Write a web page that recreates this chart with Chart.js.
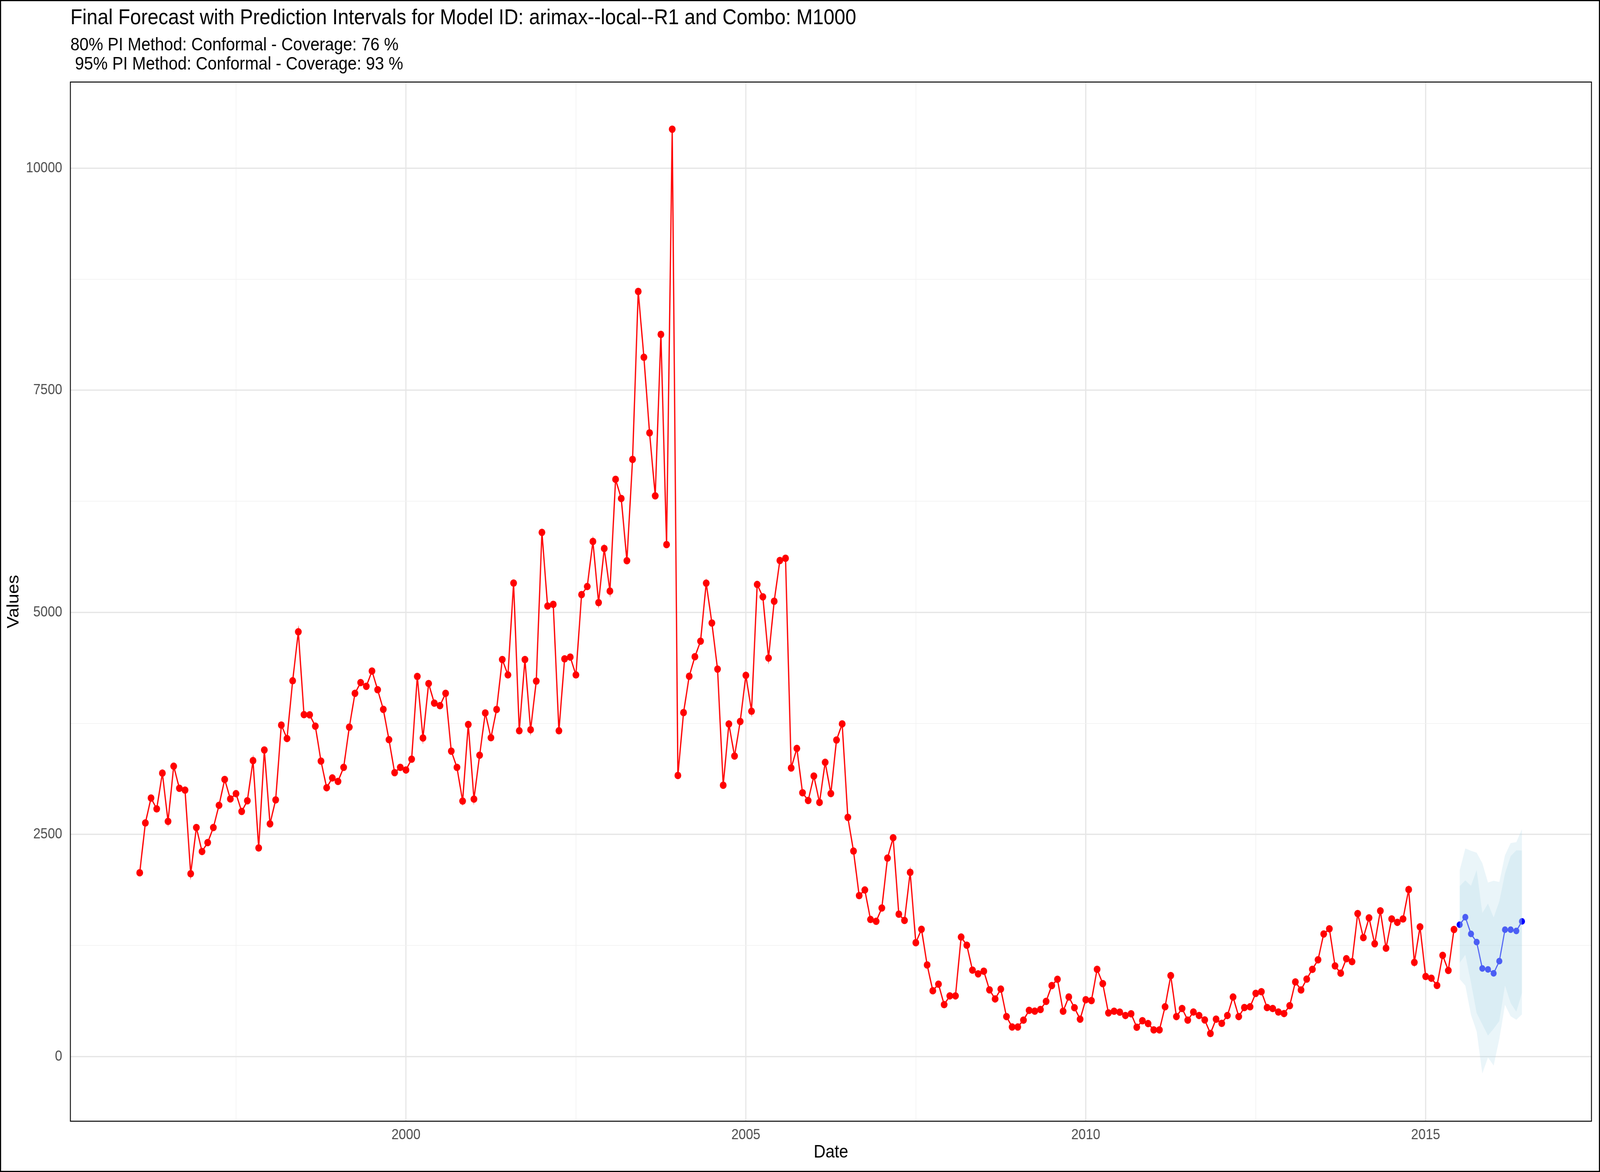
<!DOCTYPE html>
<html>
<head>
<meta charset="utf-8">
<script src="https://cdn.jsdelivr.net/npm/chart.js@4.4.1/dist/chart.umd.min.js"></script>
<style>
  html, body { margin: 0; padding: 0; background: #ffffff; overflow: hidden; width: 100vw; height: 100vh; }
  canvas { display: block; }
</style>
</head>
<body>
<canvas id="c" width="4500" height="3000" style="width:100vw;height:100vh;display:block;"></canvas>
<script>
// ---------------- text ----------------
const titleText = "Final Forecast with Prediction Intervals for Model ID: arimax--local--R1 and Combo: M1000";
const subtitleLines = [
  "80% PI Method: Conformal - Coverage: 76 %",
  " 95% PI Method: Conformal - Coverage: 93 %"
];
const xAxisTitle = "Date";
const yAxisTitle = "Values";

// ---------------- categories (monthly dates) ----------------
const historyStart = [1996, 2];   // Feb 1996
const forecastStart = [2015, 7];  // Jul 2015

// ---------------- series values ----------------
const historyValues = [
  2069, 2630, 2910, 2788, 3190, 2647, 3268, 3020, 2999, 2058,
  2578, 2308, 2409, 2578, 2828, 3119, 2900, 2959, 2759, 2879,
  3331, 2348, 3451, 2620, 2889, 3731, 3580, 4230, 4781, 3849,
  3847, 3719, 3326, 3026, 3136, 3097, 3255, 3708, 4089, 4210,
  4168, 4339, 4129, 3908, 3567, 3196, 3255, 3226, 3348, 4279,
  3586, 4199, 3979, 3950, 4089, 3438, 3255, 2876, 3738, 2898,
  3392, 3868, 3589, 3907, 4469, 4296, 5330, 3667, 4469, 3679,
  4226, 5900, 5071, 5090, 3667, 4477, 4497, 4296, 5200, 5291,
  5798, 5110, 5719, 5240, 6498, 6282, 5582, 6722, 8613, 7872,
  7021, 6312, 8129, 5763, 10439, 3164, 3872, 4281, 4501, 4676,
  5329, 4880, 4361, 3054, 3743, 3383, 3772, 4291, 3887, 5314,
  5175, 4486, 5125, 5584, 5609, 3249, 3468, 2969, 2882, 3157,
  2861, 3312, 2961, 3563, 3745, 2692, 2313, 1812, 1875, 1543,
  1522, 1672, 2234, 2463, 1603, 1532, 2073, 1282, 1432, 1031,
  741, 815, 585, 683, 683, 1345, 1253, 973, 931, 961,
  751, 649, 759, 450, 333, 333, 410, 520, 511, 530,
  621, 799, 870, 510, 671, 550, 421, 640, 630, 982,
  821, 491, 510, 500, 462, 481, 330, 403, 371, 300,
  300, 560, 911, 450, 541, 410, 501, 462, 412, 259,
  421, 374, 462, 670, 450, 552, 560, 711, 730, 552,
  541, 501, 484, 573, 840, 750, 872, 982, 1089, 1380,
  1438, 1020, 939, 1101, 1068, 1609, 1339, 1561, 1270, 1640,
  1220, 1549, 1511, 1549, 1880, 1060, 1460, 901, 882, 800,
  1139, 969, 1430
];
const forecastValues = [1484, 1569, 1381, 1288, 992, 981, 937, 1074, 1428, 1428, 1414, 1521];
const lower80 = [1054, 1145, 832, 489, 363, 236, 313, 400, 798, 602, 505, 717];
const upper80 = [1918, 1983, 1922, 2100, 1616, 1721, 1565, 1747, 2060, 2256, 2322, 2318];
const lower95 = [872, 798, 469, 283, -192, -10, -101, 198, 582, 454, 414, 475];
const upper95 = [2094, 2343, 2316, 2294, 2177, 1959, 1979, 1965, 2266, 2403, 2413, 2561];

// ---------------- tick labels ----------------
const xMajorTicks = [2000, 2005, 2010, 2015];
const xMinorTicks = [1997.5, 2002.5, 2007.5, 2012.5];
const yMajorTicks = [0, 2500, 5000, 7500, 10000];
const yMinorTicks = [1250, 3750, 6250, 8750];

// ---------------- build points ----------------
function monthPos(start, i) {
  const m = start[1] - 1 + i;
  return start[0] + Math.floor(m / 12) + (m % 12) / 12;
}
const toPts = (start, arr) => arr.map((v, i) => ({ x: monthPos(start, i), y: v }));

const FONT = "'Liberation Sans', Arial, Helvetica, sans-serif";
const BAND = 'rgba(173,216,230,0.25)';

const decorPlugin = {
  id: 'decor',
  afterDraw(chart) {
    const ctx = chart.ctx;
    const ca = chart.chartArea;
    ctx.save();
    ctx.strokeStyle = '#000000';
    ctx.lineWidth = 2.5;
    ctx.strokeRect(ca.left, ca.top, ca.right - ca.left, ca.bottom - ca.top);
    ctx.lineWidth = 3;
    ctx.strokeRect(1.5, 1.5, chart.width - 3, chart.height - 3);
    ctx.fillStyle = '#000000';
    ctx.textAlign = 'left';
    ctx.textBaseline = 'alphabetic';
    ctx.font = '55px ' + FONT;
    ctx.fillText(titleText, ca.left, 62);
    ctx.font = '46px ' + FONT;
    ctx.fillText(subtitleLines[0], ca.left, 129);
    ctx.fillText(subtitleLines[1], ca.left, 178);
    ctx.restore();
  }
};

const isMajorX = v => xMajorTicks.some(t => Math.abs(t - v) < 1e-6);
const isMajorY = v => yMajorTicks.some(t => Math.abs(t - v) < 1e-6);

new Chart(document.getElementById('c'), {
  type: 'line',
  data: {
    datasets: [
      { data: toPts(historyStart, historyValues), borderColor: '#FF0000', backgroundColor: '#FF0000',
        pointBackgroundColor: '#FF0000', pointBorderWidth: 0, pointRadius: 9.5, borderWidth: 3.5,
        tension: 0, fill: false, order: 10 },
      { data: toPts(forecastStart, forecastValues), borderColor: '#0000FF', backgroundColor: '#0000FF',
        pointBackgroundColor: '#0000FF', pointBorderWidth: 0, pointRadius: 8.5, borderWidth: 3,
        tension: 0, fill: false, order: 9 },
      { data: toPts(forecastStart, lower95), borderColor: 'rgba(0,0,0,0)', borderWidth: 0,
        pointRadius: 0, fill: false, order: 2 },
      { data: toPts(forecastStart, upper95), borderColor: 'rgba(0,0,0,0)', borderWidth: 0,
        pointRadius: 0, fill: '-1', backgroundColor: BAND, order: 1 },
      { data: toPts(forecastStart, lower80), borderColor: 'rgba(0,0,0,0)', borderWidth: 0,
        pointRadius: 0, fill: false, order: 2 },
      { data: toPts(forecastStart, upper80), borderColor: 'rgba(0,0,0,0)', borderWidth: 0,
        pointRadius: 0, fill: '-1', backgroundColor: BAND, order: 0 }
    ]
  },
  options: {
    responsive: false,
    devicePixelRatio: 1,
    animation: false,
    events: [],
    layout: { padding: { left: 0, top: 210, right: 24, bottom: 0 } },
    plugins: { legend: { display: false }, tooltip: { enabled: false }, title: { display: false } },
    scales: {
      x: {
        type: 'linear',
        min: 1995.064,
        max: 2017.439,
        afterBuildTicks: s => { s.ticks = xMinorTicks.concat(xMajorTicks).sort((a, b) => a - b).map(v => ({ value: v })); },
        afterFit: s => { s.height = 130; },
        ticks: {
          autoSkip: false, maxRotation: 0, minRotation: 0, padding: 14,
          color: '#4D4D4D', font: { family: FONT, size: 36.7 },
          callback: v => isMajorX(v) ? String(v) : ''
        },
        grid: {
          drawTicks: false,
          color: c => (c.tick && isMajorX(c.tick.value)) ? '#E6E6E6' : '#F2F2F2',
          lineWidth: c => (c.tick && isMajorX(c.tick.value)) ? 3.2 : 1.8
        },
        border: { display: false },
        title: { display: true, text: xAxisTitle, color: '#000000', font: { family: FONT, size: 46 },
                 padding: { top: 0, bottom: 22 } }
      },
      y: {
        type: 'linear',
        min: -728,
        max: 10970,
        afterBuildTicks: s => { s.ticks = yMinorTicks.concat(yMajorTicks).sort((a, b) => a - b).map(v => ({ value: v })); },
        afterFit: s => { s.width = 198; },
        ticks: {
          autoSkip: false, padding: 23,
          color: '#4D4D4D', font: { family: FONT, size: 36.7 },
          callback: v => isMajorY(v) ? String(v) : ''
        },
        grid: {
          drawTicks: false,
          color: c => (c.tick && isMajorY(c.tick.value)) ? '#E6E6E6' : '#F2F2F2',
          lineWidth: c => (c.tick && isMajorY(c.tick.value)) ? 3.2 : 1.8
        },
        border: { display: false },
        title: { display: true, text: yAxisTitle, color: '#000000', font: { family: FONT, size: 46 },
                 padding: { top: 12, bottom: 0 } }
      }
    }
  },
  plugins: [decorPlugin]
});
</script>
</body>
</html>
